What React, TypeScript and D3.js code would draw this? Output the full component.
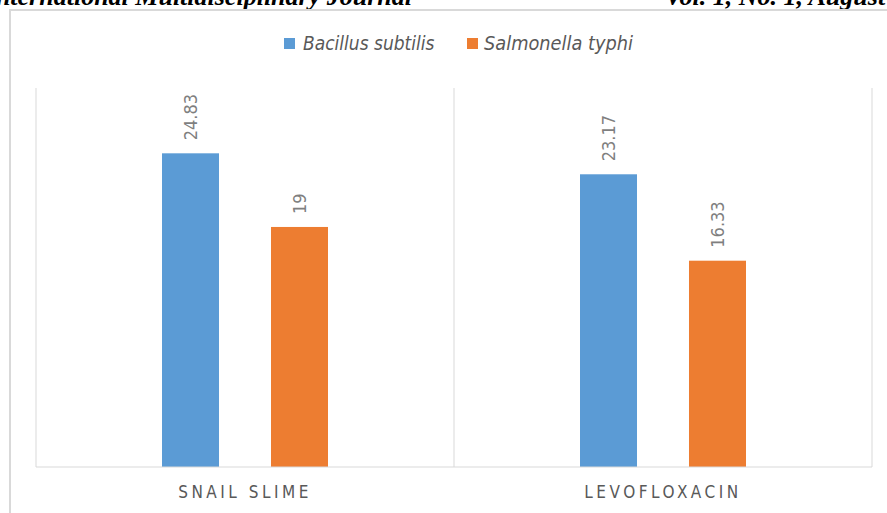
import React from "react";
import * as d3 from "d3";

const categories = ["SNAIL SLIME", "LEVOFLOXACIN"];
const seriesNames = ["Bacillus subtilis", "Salmonella typhi"];
const bacillusValues = [24.83, 23.17];
const salmonellaValues = [19, 16.33];
const valueLabels = [["24.83", "19"], ["23.17", "16.33"]];
const seriesColors = ["#5b9bd5", "#ed7d31"];

const W = 887;
const H = 513;
const FONT = "'Liberation Sans Narrow', 'DejaVu Sans Condensed', 'Roboto', sans-serif";

export default function App() {
  const x = d3.scaleBand<string>().domain(categories).range([36, 872]).paddingInner(0).paddingOuter(0);
  const bw = x.bandwidth();
  const x1 = d3.scaleBand<string>().domain(seriesNames).range([0, bw]).paddingInner(0.477).paddingOuter(1.156);
  const y = d3.scaleLinear().domain([0, 30]).range([467, 88]);
  const series = [bacillusValues, salmonellaValues];

  return (
    <svg width={W} height={H} style={{ position: "absolute", left: 0, top: 0, background: "#fff" }}>
      <rect x={0} y={0} width={W} height={H} fill="#fff" />
      {/* header */}
      <text x={412} y={5} textAnchor="end" fontFamily="'Liberation Serif', serif" fontWeight="bold" fontStyle="italic" fontSize={26} fill="#000">
        International Multidisciplinary Journal
      </text>
      <text x={665} y={5} textAnchor="start" fontFamily="'Liberation Serif', serif" fontWeight="bold" fontStyle="italic" fontSize={26} fill="#000">
        Vol. 1, No. 1, August
      </text>
      {/* chart frame */}
      <rect x={10} y={10} width={900} height={600} fill="#fff" stroke="#d9d9d9" strokeWidth={2} />
      {/* legend */}
      <g fontFamily={FONT} fontStyle="italic" fontSize={19} fill="#595959">
        <rect x={284} y={38} width={11} height={11} fill={seriesColors[0]} />
        <text x={303} y={50}>{seriesNames[0]}</text>
        <rect x={467} y={38} width={11} height={11} fill={seriesColors[1]} />
        <text x={484} y={50} textLength={149} lengthAdjust="spacingAndGlyphs">{seriesNames[1]}</text>
      </g>
      {/* gridlines */}
      <g stroke="#d9d9d9" strokeWidth={1}>
        {[...categories.map((c) => x(c)!), 872].map((gx, i) => (
          <line key={i} x1={gx} x2={gx} y1={y(30)} y2={y(0)} />
        ))}
      </g>
      {/* bars */}
      {categories.map((c, ci) => (
        <g key={c}>
          {seriesNames.map((s, si) => {
            const v = series[si][ci];
            const bx = x(c)! + x1(s)!;
            const by = y(v);
            const cx = bx + x1.bandwidth() / 2;
            return (
              <g key={s}>
                <rect x={bx} y={by} width={x1.bandwidth()} height={y(0) - by} fill={seriesColors[si]} />
                <text
                  transform={`translate(${cx},${by - 13}) rotate(-90)`}
                  dy="0.35em"
                  textAnchor="start"
                  fontFamily={FONT}
                  fontSize={18}
                  fill="#7f7f7f"
                >
                  {valueLabels[ci][si]}
                </text>
              </g>
            );
          })}
        </g>
      ))}
      {/* baseline */}
      <line x1={36} x2={872} y1={y(0)} y2={y(0)} stroke="#d9d9d9" strokeWidth={1} />
      {/* category labels */}
      {categories.map((c) => (
        <text
          key={c}
          x={x(c)! + bw / 2}
          y={498}
          textAnchor="middle"
          fontFamily={FONT}
          fontSize={17}
          letterSpacing={3.5}
          fill="#595959"
        >
          {c}
        </text>
      ))}
    </svg>
  );
}
